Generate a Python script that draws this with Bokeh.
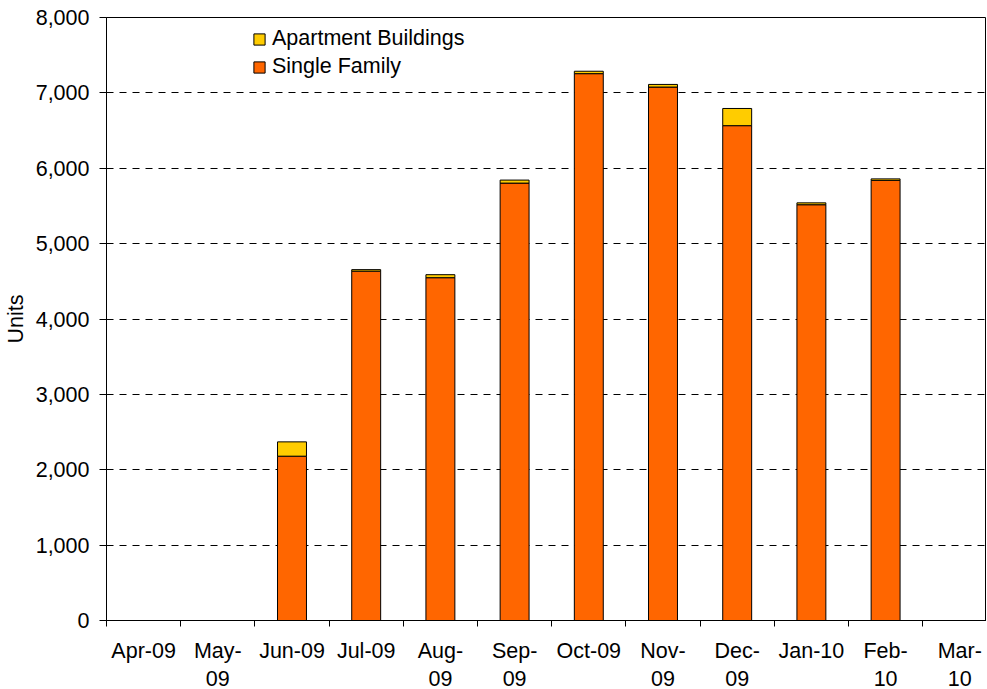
import numpy as np
from bokeh.plotting import figure
from bokeh.models import (Range1d, FixedTicker, NumeralTickFormatter, LinearAxis,
                          Legend, LegendItem, ColumnDataSource)
from bokeh.embed import file_html
from bokeh.resources import INLINE

# ---- data ----
months = ["Apr-09", "May-\n09", "Jun-09", "Jul-09", "Aug-\n09", "Sep-\n09", "Oct-09",
          "Nov-\n09", "Dec-\n09", "Jan-10", "Feb-\n10", "Mar-\n10"]
single_family = [0, 0, 2180, 4635, 4548, 5803, 7255, 7077, 6565, 5516, 5839, 0]
apartments = [0, 0, 190, 20, 40, 40, 32, 35, 228, 25, 20, 0]
y_ticks = [0, 1000, 2000, 3000, 4000, 5000, 6000, 7000, 8000]

n = len(months)
centers = list(np.arange(n) + 0.5)
bounds = list(np.arange(n + 1).astype(float))

src = ColumnDataSource(dict(x=centers, sf=single_family, apt=apartments))

FONT = "Liberation Sans"
FS = "21.5px"

frame_w = 880
cat_px = 74.2
p = figure(frame_width=frame_w, frame_height=603, output_backend="svg",
           toolbar_location=None,
           x_range=Range1d(0, frame_w / cat_px), y_range=Range1d(0, 8000),
           min_border_left=99, min_border_top=17, min_border_right=0,
           min_border_bottom=60, x_axis_location=None)

renderers = p.vbar_stack(["sf", "apt"], x="x", width=0.39, source=src,
                         color=["#FF6600", "#FFCC00"], line_color="black",
                         line_width=1)

# x axis: labels at category centres, tick marks at category boundaries
xa = LinearAxis(ticker=FixedTicker(ticks=centers, minor_ticks=bounds))
xa.major_label_overrides = {c: t for c, t in zip(centers, months)}
xa.major_tick_line_color = None
xa.major_tick_out = 0
xa.major_tick_in = 0
xa.minor_tick_out = 6
xa.minor_tick_in = 0
xa.minor_tick_line_color = "black"
xa.axis_line_color = "black"
xa.major_label_standoff = 12
xa.major_label_text_font = FONT
xa.major_label_text_font_size = FS
xa.major_label_text_color = "black"
xa.major_label_text_line_height = 1.18
p.add_layout(xa, "below")

# y axis
ya = p.yaxis[0]
ya.ticker = FixedTicker(ticks=y_ticks, minor_ticks=[])
ya.formatter = NumeralTickFormatter(format="0,0")
ya.major_tick_out = 7
ya.major_tick_in = 0
ya.major_tick_line_color = "black"
ya.axis_line_color = "black"
ya.major_label_standoff = 10
ya.major_label_text_font = FONT
ya.major_label_text_font_size = FS
ya.major_label_text_color = "black"
ya.axis_label = "Units"
ya.axis_label_text_font = FONT
ya.axis_label_text_font_size = FS
ya.axis_label_text_font_style = "normal"
ya.axis_label_text_color = "black"
ya.axis_label_standoff = 5

p.xgrid.grid_line_color = None
p.ygrid.ticker = FixedTicker(ticks=y_ticks[1:-1])
p.ygrid.grid_line_color = "black"
p.ygrid.grid_line_dash = "7 6"
p.ygrid.grid_line_width = 1

p.outline_line_color = "black"
p.outline_line_width = 1
p.background_fill_color = "white"
p.border_fill_color = "white"

legend = Legend(items=[LegendItem(label="Apartment Buildings", renderers=[renderers[1]]),
                       LegendItem(label="Single Family", renderers=[renderers[0]])],
                location=(146, 541), padding=0, margin=0, spacing=3,
                glyph_width=14, glyph_height=14, label_height=25,
                label_standoff=6, label_text_font=FONT, label_text_font_size=FS,
                label_text_color="black", border_line_color=None,
                background_fill_alpha=0)
p.add_layout(legend, "center")

open("out.html", "w").write(file_html(p, INLINE))
